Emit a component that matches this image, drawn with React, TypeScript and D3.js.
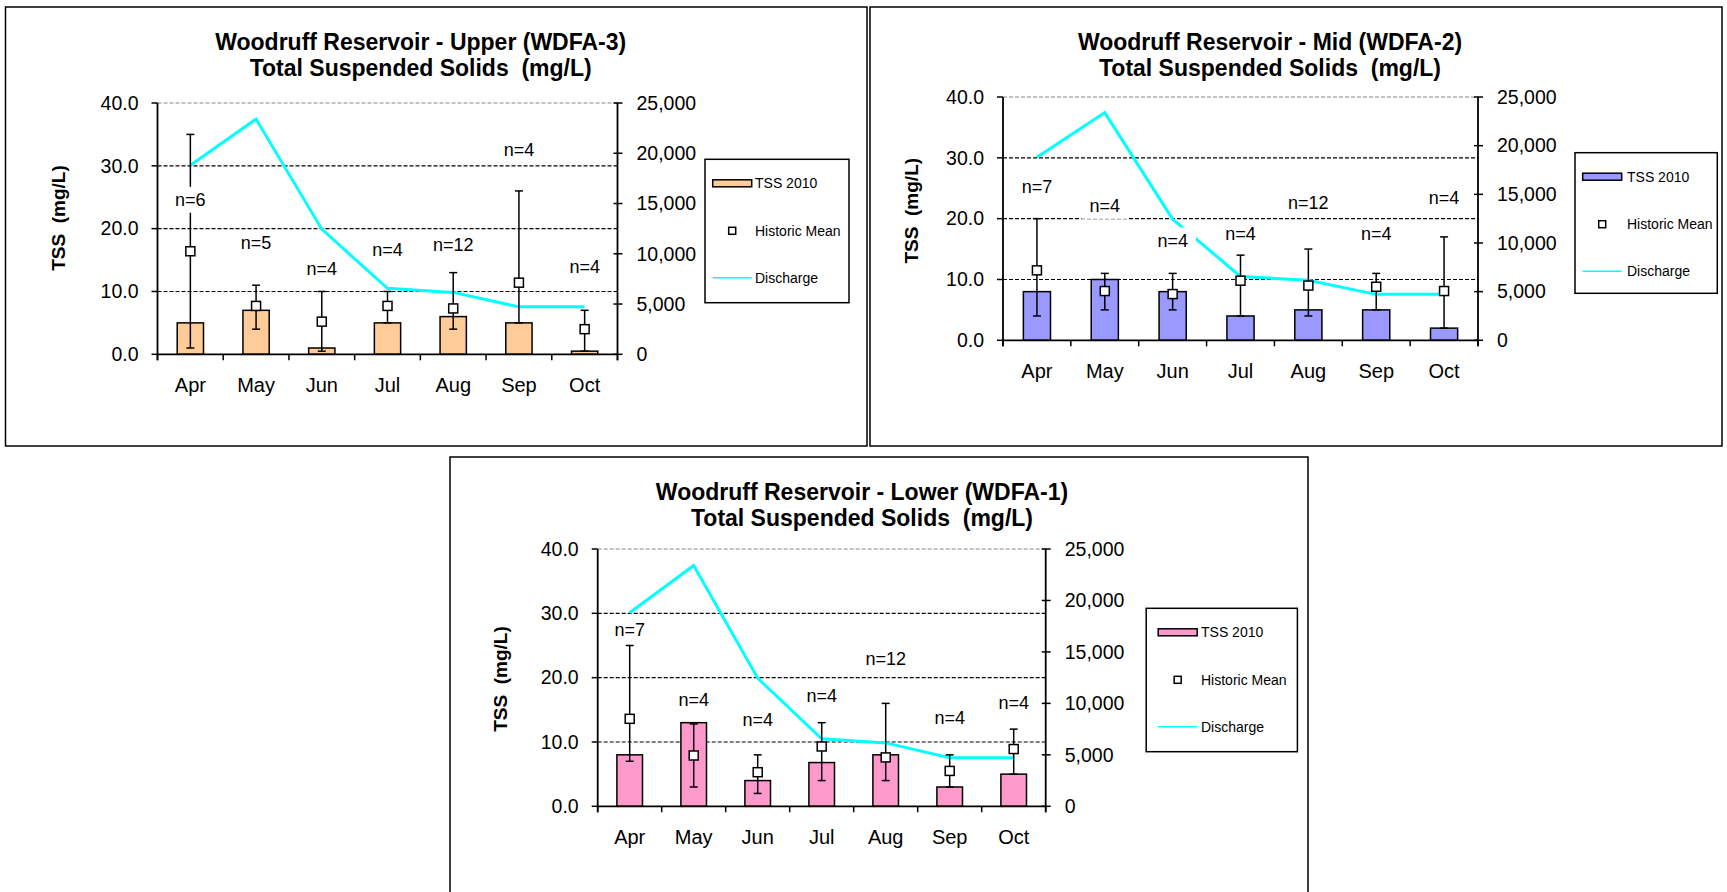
import * as d3 from "d3";
import React from "react";

// categories
const months = ["Apr", "May", "Jun", "Jul", "Aug", "Sep", "Oct"];

// discharge (right axis), same for all three sites
const discharge = [18800, 23400, 12450, 6560, 6160, 4720, 4720];

// Upper (WDFA-3)
const upperTss = [5, 7, 1, 5, 6, 5, 0.5];
const upperMean = [16.4, 7.7, 5.2, 7.7, 7.3, 11.4, 4.0];
const upperMin = [1, 4, 0.5, 5, 4, 5, 0.5];
const upperMax = [35, 11, 10, 10, 13, 26, 7];
const upperN = [6, 5, 4, 4, 12, 4, 4];
const upperNAt = [24.6, 17.7, 13.6, 16.7, 17.5, 32.6, 13.9];

// Mid (WDFA-2)
const midTss = [8, 10, 8, 4, 5, 5, 2];
const midMean = [11.5, 8.1, 7.6, 9.8, 9.0, 8.8, 8.1];
const midMin = [4, 5, 5, 4, 4, 5, 2];
const midMax = [20, 11, 11, 14, 15, 11, 17];
const midN = [7, 4, 4, 4, 12, 4, 4];
const midNAt = [25.2, 22.1, 16.4, 17.5, 22.7, 17.5, 23.4];

// Lower (WDFA-1)
const lowerTss = [8, 13, 4, 6.8, 8, 3, 5];
const lowerMean = [13.6, 7.9, 5.3, 9.3, 7.6, 5.5, 8.9];
const lowerMin = [7, 3, 2, 4, 4, 3, 5];
const lowerMax = [25, 12.8, 8, 13, 16, 8, 12];
const lowerN = [7, 4, 4, 4, 12, 4, 4];
const lowerNAt = [27.4, 16.5, 13.4, 17.2, 23.0, 13.7, 16.1];

const FONT = "'Liberation Sans', Arial, Helvetica, sans-serif";

// rough Arial widths (em) for the n= labels
const charW: Record<string, number> = { n: 0.556, "=": 0.584 };
const textEm = (s: string) =>
  s.split("").reduce((a, c) => a + (charW[c] ?? 0.556), 0);

function Label(props: any) {
  const { x, y, size, anchor = "start", weight = "normal", rotate = 0, dy = 0, children } = props;
  return (
    <text
      transform={`translate(${x},${y})${rotate ? ` rotate(${rotate})` : ""}`}
      dy={dy}
      fontSize={size}
      fontFamily={FONT}
      fontWeight={weight}
      textAnchor={anchor}
      fill="#000"
      style={{ whiteSpace: "pre" }}
    >
      {children}
    </text>
  );
}

function Panel(props: any) {
  const { frame, plot, title, titleX, yLab, legend, color, tss, mean, lo, hi, n, nAt } = props;

  const x = d3
    .scaleBand()
    .domain(months)
    .range([plot.x0, plot.x1])
    .paddingInner(0.6)
    .paddingOuter(0.3);
  const y = d3.scaleLinear().domain([0, 40]).range([plot.y1, plot.y0]);
  const q = d3.scaleLinear().domain([0, 25000]).range([plot.y1, plot.y0]);
  const cx = (i: number) => (x(months[i]) as number) + x.bandwidth() / 2;

  const line = d3
    .line<number>()
    .x((d, i) => cx(i))
    .y(d => q(d));

  const fmtL = d3.format(".1f");
  const fmtR = d3.format(",");
  const nSize = 18;

  return (
    <g>
      {/* frame */}
      <rect x={frame.x} y={frame.y} width={frame.w} height={frame.h} fill="#fff" stroke="#000" strokeWidth={1.5} />

      {/* title */}
      <Label x={titleX} y={frame.y + 42.5} size={23} weight="bold" anchor="middle">
        {title}
      </Label>
      <Label x={titleX} y={frame.y + 68.5} size={23} weight="bold" anchor="middle">
        {"Total Suspended Solids  (mg/L)"}
      </Label>

      {/* y label */}
      <Label x={yLab.x} y={yLab.y} size={19} weight="bold" anchor="middle" rotate={-90} dy="0.35em">
        {"TSS  (mg/L)"}
      </Label>

      {/* grid */}
      {y.ticks(4).filter(t => t > 0).map(t => (
        <line
          key={t}
          x1={plot.x0}
          x2={plot.x1}
          y1={y(t)}
          y2={y(t)}
          stroke={t === 40 ? "#888" : "#000"}
          strokeWidth={1.2}
          strokeDasharray="4 2"
        />
      ))}

      {/* bars */}
      {tss.map((v: number, i: number) => (
        <rect
          key={i}
          x={x(months[i])}
          y={y(v)}
          width={x.bandwidth()}
          height={y(0) - y(v)}
          fill={color}
          stroke="#000"
          strokeWidth={1.5}
        />
      ))}

      {/* discharge */}
      <path d={line(discharge) as string} fill="none" stroke="#00FFFF" strokeWidth={3} />

      {/* error bars */}
      {mean.map((v: number, i: number) => {
        const c = cx(i);
        return (
          <g key={i} stroke="#000" strokeWidth={1.5}>
            <line x1={c} x2={c} y1={y(hi[i])} y2={y(lo[i])} />
            <line x1={c - 4} x2={c + 4} y1={y(hi[i])} y2={y(hi[i])} />
            <line x1={c - 4} x2={c + 4} y1={y(lo[i])} y2={y(lo[i])} />
          </g>
        );
      })}

      {/* historic mean */}
      {mean.map((v: number, i: number) => (
        <rect key={i} x={cx(i) - 4.5} y={y(v) - 4.5} width={9} height={9} fill="#fff" stroke="#000" strokeWidth={1.5} />
      ))}

      {/* n labels */}
      {n.map((k: number, i: number) => {
        const s = "n=" + k;
        const w = textEm(s) * nSize + 16;
        const c = cx(i);
        const yy = y(nAt[i]);
        return (
          <g key={i}>
            <rect x={c - w / 2} y={yy - 13} width={w} height={26} fill="#fff" />
            <Label x={c} y={yy} size={nSize} anchor="middle" dy="0.35em">
              {s}
            </Label>
          </g>
        );
      })}

      {/* left axis */}
      <line x1={plot.x0} x2={plot.x0} y1={plot.y0} y2={plot.y1 + 6} stroke="#000" strokeWidth={1.8} />
      {y.ticks(4).map(t => (
        <g key={t}>
          <line x1={plot.x0 - 6} x2={plot.x0} y1={y(t)} y2={y(t)} stroke="#000" strokeWidth={1.5} />
          <Label x={plot.x0 - 19} y={y(t)} size={19.5} anchor="end" dy="0.35em">
            {fmtL(t)}
          </Label>
        </g>
      ))}

      {/* right axis */}
      <line x1={plot.x1} x2={plot.x1} y1={plot.y0} y2={plot.y1 + 6} stroke="#000" strokeWidth={1.8} />
      {q.ticks(5).map(t => (
        <g key={t}>
          <line x1={plot.x1 - 4} x2={plot.x1 + 5} y1={q(t)} y2={q(t)} stroke="#000" strokeWidth={1.5} />
          <Label x={plot.x1 + 19} y={q(t)} size={19.5} anchor="start" dy="0.35em">
            {fmtR(t)}
          </Label>
        </g>
      ))}

      {/* x axis */}
      <line x1={plot.x0} x2={plot.x1} y1={plot.y1} y2={plot.y1} stroke="#000" strokeWidth={1.8} />
      {d3.range(months.length + 1).map(i => {
        const bx = plot.x0 + i * x.step();
        return <line key={i} x1={bx} x2={bx} y1={plot.y1} y2={plot.y1 + 6} stroke="#000" strokeWidth={1.5} />;
      })}
      {months.map((m, i) => (
        <Label key={m} x={cx(i)} y={plot.y1 + 38} size={20} anchor="middle">
          {m}
        </Label>
      ))}

      {/* legend */}
      <rect x={legend.x} y={legend.y} width={legend.w} height={legend.h} fill="#fff" stroke="#000" strokeWidth={1.5} />
      <rect x={legend.x + legend.sx} y={legend.y + 20.5} width={39} height={7} fill={color} stroke="#000" strokeWidth={1.5} />
      <Label x={legend.x + legend.tx} y={legend.y + 24} size={14} dy="0.35em">
        {"TSS 2010"}
      </Label>
      <rect x={legend.x + legend.sx + 16} y={legend.y + 68} width={7} height={7} fill="#fff" stroke="#000" strokeWidth={1.5} />
      <Label x={legend.x + legend.tx} y={legend.y + 71.5} size={14} dy="0.35em">
        {"Historic Mean"}
      </Label>
      <line
        x1={legend.x + legend.sx}
        x2={legend.x + legend.sx + 39}
        y1={legend.y + 118.5}
        y2={legend.y + 118.5}
        stroke="#00FFFF"
        strokeWidth={1.5}
      />
      <Label x={legend.x + legend.tx} y={legend.y + 118.5} size={14} dy="0.35em">
        {"Discharge"}
      </Label>
    </g>
  );
}

export default function App() {
  return (
    <div style={{ position: "absolute", left: 0, top: 0 }}>
      <svg width={1727} height={892} style={{ display: "block", background: "#fff" }}>
        <Panel
          frame={{ x: 5.5, y: 7, w: 861.5, h: 439 }}
          plot={{ x0: 157.5, x1: 617.5, y0: 103, y1: 354.3 }}
          title="Woodruff Reservoir - Upper (WDFA-3)"
          titleX={420.7}
          yLab={{ x: 58, y: 218 }}
          legend={{ x: 705, y: 159.3, w: 144, h: 143.4, sx: 7.7, tx: 50 }}
          color="#FFCC99"
          tss={upperTss}
          mean={upperMean}
          lo={upperMin}
          hi={upperMax}
          n={upperN}
          nAt={upperNAt}
        />
        <Panel
          frame={{ x: 870, y: 7, w: 852, h: 439 }}
          plot={{ x0: 1003, x1: 1478, y0: 97, y1: 340.3 }}
          title="Woodruff Reservoir - Mid (WDFA-2)"
          titleX={1270}
          yLab={{ x: 911.5, y: 210.7 }}
          legend={{ x: 1575, y: 152.7, w: 142.3, h: 140.6, sx: 7.7, tx: 52 }}
          color="#9999FF"
          tss={midTss}
          mean={midMean}
          lo={midMin}
          hi={midMax}
          n={midN}
          nAt={midNAt}
        />
        <Panel
          frame={{ x: 450, y: 457, w: 858, h: 460 }}
          plot={{ x0: 597.7, x1: 1045.7, y0: 549, y1: 806.3 }}
          title="Woodruff Reservoir - Lower (WDFA-1)"
          titleX={862}
          yLab={{ x: 500.5, y: 679 }}
          legend={{ x: 1146.2, y: 608.3, w: 151.2, h: 143.4, sx: 12, tx: 54.8 }}
          color="#FF99CC"
          tss={lowerTss}
          mean={lowerMean}
          lo={lowerMin}
          hi={lowerMax}
          n={lowerN}
          nAt={lowerNAt}
        />
      </svg>
    </div>
  );
}
